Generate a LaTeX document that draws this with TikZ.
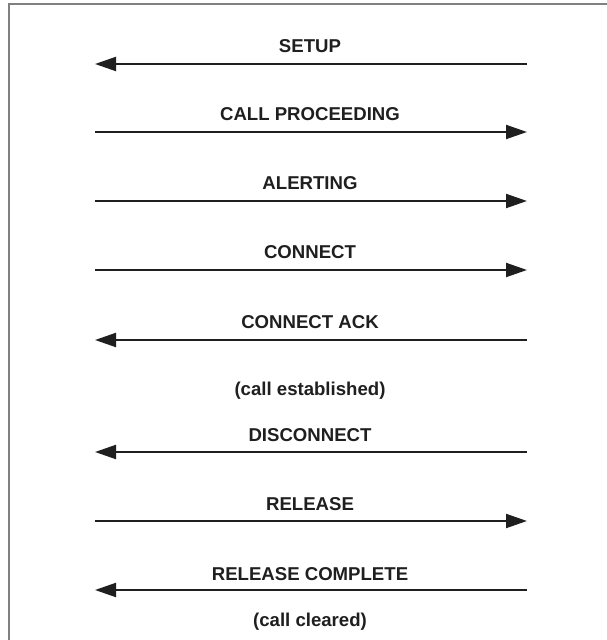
\documentclass[tikz,border=0pt]{standalone}
\usepackage{fontspec}
\setmainfont{Liberation Sans}
\usetikzlibrary{arrows.meta}
\begin{document}
\begin{tikzpicture}[x=1pt,y=1pt,
  msg/.style={line width=2pt, draw=black!88, -{Triangle[length=21pt,width=14pt]}},
  lbl/.style={anchor=base, inner sep=0pt, font=\fontsize{18.6}{22}\selectfont\bfseries, text=black!88},
  frameline/.style={line width=2pt, draw=black!50}]
\useasboundingbox (0,0) rectangle (607,640);
\fill[white] (0,0) rectangle (607,640);
\draw[frameline] (8.5,0) -- (8.5,636) -- (607,636);
% arrow end points (image y -> 640 - y)
\foreach \i/\y in {1/64,2/132,3/201,4/270,5/340,6/452,7/521,8/590}{
  \coordinate (L\i) at (95,640-\y);
  \coordinate (R\i) at (527,640-\y);
}
\node[lbl] (t1) at (310,640-53) {SETUP};
\node[lbl] (t2) at (310,640-121) {CALL PROCEEDING};
\node[lbl] (t3) at (310,640-190) {ALERTING};
\node[lbl] (t4) at (310,640-259) {CONNECT};
\node[lbl] (t5) at (310,640-329) {CONNECT ACK};
\node[lbl] (e1) at (310,640-396) {(call established)};
\node[lbl] (t6) at (310,640-442) {DISCONNECT};
\node[lbl] (t7) at (310,640-511) {RELEASE};
\node[lbl] (t8) at (310,640-581) {RELEASE COMPLETE};
\node[lbl] (e2) at (310,640-627) {(call cleared)};
\draw[msg] (R1) -- (L1);
\draw[msg] (L2) -- (R2);
\draw[msg] (L3) -- (R3);
\draw[msg] (L4) -- (R4);
\draw[msg] (R5) -- (L5);
\draw[msg] (R6) -- (L6);
\draw[msg] (L7) -- (R7);
\draw[msg] (R8) -- (L8);
\end{tikzpicture}
\end{document}
